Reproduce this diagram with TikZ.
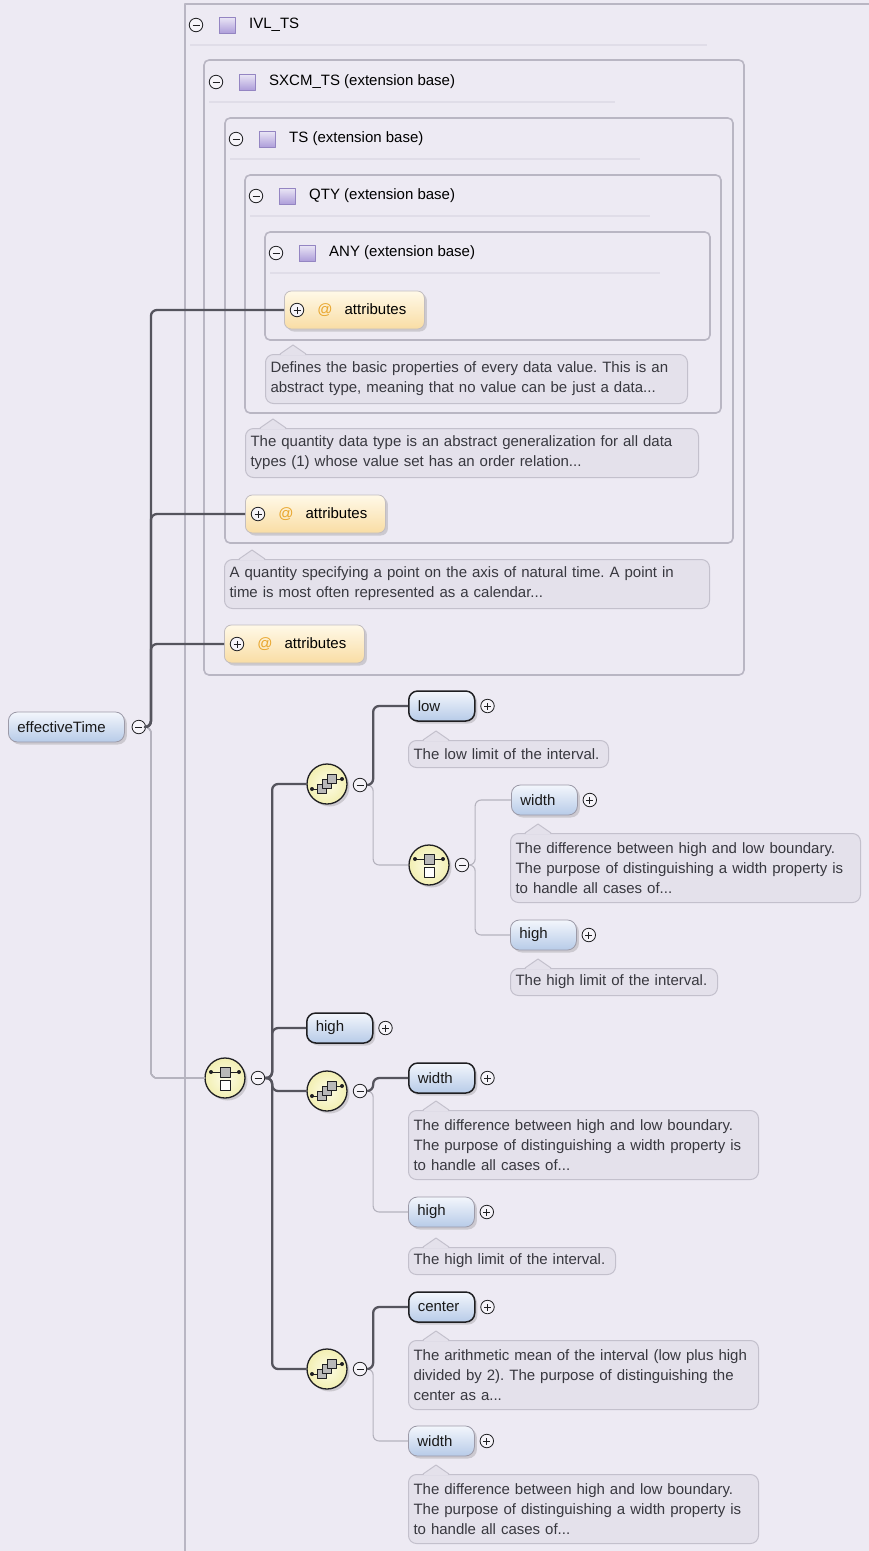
\documentclass[tikz,border=0pt]{standalone}
\usepackage{fontspec}
\setmainfont{Liberation Sans}
\usetikzlibrary{shadows}
\frenchspacing
\definecolor{bg}{HTML}{EDEAF3}
\definecolor{boxline}{HTML}{B9B6C3}
\definecolor{sepline}{HTML}{E0DDE8}
\definecolor{reqline}{HTML}{55545D}
\definecolor{optline}{HTML}{B5B3BE}
\definecolor{elemtop}{HTML}{F3F6FC}
\definecolor{elembot}{HTML}{B7CBE8}
\definecolor{mandline}{HTML}{1F1F22}
\definecolor{optelline}{HTML}{9C9AA8}
\definecolor{attrtop}{HTML}{FFF9E8}
\definecolor{attrbot}{HTML}{F9DDA4}
\definecolor{attrline}{HTML}{C2BDC0}
\definecolor{atcol}{HTML}{E8A52C}
\definecolor{docfill}{HTML}{E4E1EB}
\definecolor{docline}{HTML}{C3C0CC}
\definecolor{doctext}{HTML}{38383F}
\definecolor{compin}{HTML}{FDFCE6}
\definecolor{compout}{HTML}{F2EFB2}
\definecolor{sqfill}{HTML}{AE9EDA}
\definecolor{sqline}{HTML}{9485C2}
\begin{document}
\begin{tikzpicture}[x=1pt,y=-1pt,line join=round,
	shd/.style={drop shadow={shadow xshift=2.5pt,shadow yshift=-2.5pt,opacity=.3}},
	req/.style={draw=reqline,line width=2.3pt,rounded corners=6pt},
	opt/.style={draw=optline,line width=1.1pt,rounded corners=6pt},
	elem/.style={rectangle,rounded corners=9pt,top color=elemtop,bottom color=elembot,shd,
		minimum height=30pt,text width=48pt,inner xsep=9pt,inner ysep=0pt,align=left,anchor=west,
		text=black!90,font=\fontsize{15}{18}\selectfont},
	mand/.style={elem,draw=mandline,line width=1.5pt},
	optel/.style={elem,draw=optelline,line width=.8pt},
	attr/.style={rectangle,rounded corners=7pt,top color=attrtop,bottom color=attrbot,draw=attrline,
		line width=.8pt,shd,minimum height=38pt,text width=120pt,inner xsep=10pt,align=left,anchor=west,
		font=\fontsize{15}{18}\selectfont},
	doc/.style={rectangle,rounded corners=8pt,fill=docfill,draw=docline,line width=1pt,anchor=north west,
		inner xsep=5pt,inner ysep=0pt,align=left,text=doctext,font=\fontsize{15}{20}\selectfont},
	comp/.style={circle,minimum size=40pt,inner sep=0pt,draw=mandline,line width=1.3pt,
		inner color=compin,outer color=compout,shd},
	tog/.style={circle,minimum size=13.5pt,inner sep=0pt,draw=mandline,line width=.8pt,fill=bg!50!white},
	togminus/.style={tog,path picture={\draw[line width=.9pt] ([xshift=-3.5pt]path picture bounding box.center)
		-- ([xshift=3.5pt]path picture bounding box.center);}},
	togplus/.style={tog,path picture={\draw[line width=.9pt] ([xshift=-3.5pt]path picture bounding box.center)
		-- ([xshift=3.5pt]path picture bounding box.center) ([yshift=-3.5pt]path picture bounding box.center)
		-- ([yshift=3.5pt]path picture bounding box.center);}},
	extsq/.style={rectangle,minimum size=16pt,inner sep=0pt,draw=sqline,line width=.8pt,
		top color=sqfill!25!white,bottom color=sqfill},
	hdr/.style={anchor=west,inner sep=0pt,font=\fontsize{15}{18}\selectfont},
	extbox/.style={draw=boxline,line width=1.6pt,rounded corners=5pt}]
	\def\atlabel{\hspace*{23pt}\textcolor{atcol}{@}\hspace{12pt}attributes}
	\def\notch#1{\fill[docfill] ([xshift=15pt,yshift=-1.2pt]#1.north west) -- ([xshift=28pt,yshift=9pt]#1.north west)
		-- ([xshift=41pt,yshift=-1.2pt]#1.north west) -- cycle;
		\draw[docline,line width=1pt] ([xshift=15pt]#1.north west) -- ([xshift=28pt,yshift=9pt]#1.north west)
		-- ([xshift=41pt]#1.north west);}
	\def\seqicon#1{\begin{scope}[shift={(#1.center)},line width=.9pt]
		\draw[mandline] (-15,5) -- (-9,5) (9,-5) -- (15,-5);
		\fill[mandline] (-15,5) circle (2) (15,-5) circle (2);
		\foreach \d in {-5,0,5} \draw[mandline,fill=gray!55] (\d-4.5,-\d-4.5) rectangle ++(9,9);
		\end{scope}}
	\def\choicon#1{\begin{scope}[shift={(#1.center)},line width=.9pt]
		\draw[mandline] (-14,-6) -- (14,-6);
		\fill[mandline] (-14,-6) circle (2) (14,-6) circle (2);
		\draw[mandline,fill=gray!55] (-5,-11) rectangle (5,-1);
		\draw[mandline,fill=white] (-5,2) rectangle (5,12);
		\end{scope}}
	\useasboundingbox (0,0) rectangle (869,1551);
	\fill[bg] (0,0) rectangle (869,1551);
	% nested type boxes
	\draw[boxline,line width=1.6pt] (185,1551) -- (185,4) -- (869,4);
	\draw[extbox] (204,60) rectangle (744,675);
	\draw[extbox] (225,118) rectangle (733,543);
	\draw[extbox] (245,175) rectangle (721,413);
	\draw[extbox] (265,232) rectangle (710,340);
	\foreach \l/\r/\y in {190/707/45,209/615/102,230/640/159,250/650/216,270/660/273}
		\draw[sepline,line width=1.3pt] (\l,\y) -- (\r,\y);
	% headers
	\node[togminus] (ivl-m) at (196,25) {};
	\node[extsq] (ivl-s) at (227,25) {};
	\node[hdr] (ivl) at (249,25) {IVL\_TS};
	\node[togminus] (sxcm-m) at (216,82) {};
	\node[extsq] (sxcm-s) at (247,82) {};
	\node[hdr] (sxcm) at (269,82) {SXCM\_TS (extension base)};
	\node[togminus] (ts-m) at (236,139) {};
	\node[extsq] (ts-s) at (267,139) {};
	\node[hdr] (ts) at (289,139) {TS (extension base)};
	\node[togminus] (qty-m) at (256,196) {};
	\node[extsq] (qty-s) at (287,196) {};
	\node[hdr] (qty) at (309,196) {QTY (extension base)};
	\node[togminus] (any-m) at (276,253) {};
	\node[extsq] (any-s) at (307,253) {};
	\node[hdr] (any) at (329,253) {ANY (extension base)};
	% attributes
	\node[attr] (at1) at (284,310) {\atlabel};
	\node[attr] (at2) at (245,514) {\atlabel};
	\node[attr] (at3) at (224,644) {\atlabel};
	\foreach \a in {at1,at2,at3} \node[togplus] (\a-p) at ([xshift=13pt]\a.west) {};
	% documentation
	\node[doc,text width=412pt,minimum height=49pt] (anydoc) at (265,354)
		{Defines the basic properties of every data value. This is an\\abstract type, meaning that no value can be just a data...};
	\node[doc,text width=443pt,minimum height=49pt] (qtydoc) at (245,428)
		{The quantity data type is an abstract generalization for all data\\types (1) whose value set has an order relation...};
	\node[doc,text width=475pt,minimum height=49pt] (tsdoc) at (224,559)
		{A quantity specifying a point on the axis of natural time. A point in\\time is most often represented as a calendar...};
	% elements
	\node[optel,text width=98pt] (et) at (8,727) {effectiveTime};
	\node[togminus] (et-m) at ([xshift=14pt]et.east) {};
	\node[comp] (ch1) at (225,1078) {};
	\node[togminus] (ch1-m) at (258,1078) {};
	\node[comp] (sq1) at (327,784) {};
	\node[togminus] (sq1-m) at (360,785) {};
	\node[mand] (low) at (408,706) {low};
	\node[comp] (ch2) at (429,865) {};
	\node[togminus] (ch2-m) at (462,865) {};
	\node[optel] (wd1) at (511,800) {width};
	\node[optel] (hi1) at (510,935) {high};
	\node[mand] (hi2) at (306,1028) {high};
	\node[comp] (sq2) at (327,1091) {};
	\node[togminus] (sq2-m) at (360,1091) {};
	\node[mand] (wd2) at (408,1078) {width};
	\node[optel] (hi3) at (408,1212) {high};
	\node[comp] (sq3) at (327,1369) {};
	\node[togminus] (sq3-m) at (360,1369) {};
	\node[mand] (ce) at (408,1307) {center};
	\node[optel] (wd3) at (408,1441) {width};
	\foreach \e in {low,wd1,hi1,hi2,wd2,hi3,ce,wd3} \node[togplus] (\e-p) at ([xshift=12pt]\e.east) {};
	\seqicon{sq1} \seqicon{sq2} \seqicon{sq3}
	\choicon{ch1} \choicon{ch2}
	\node[doc,text width=190pt,minimum height=27pt] (lowdoc) at (408,740) {The low limit of the interval.};
	\node[doc,text width=340pt,minimum height=69pt] (wd1doc) at (510,833)
		{The difference between high and low boundary.\\The purpose of distinguishing a width property is\\to handle all cases of...};
	\node[doc,text width=197pt,minimum height=27pt] (hi1doc) at (510,968) {The high limit of the interval.};
	\node[doc,text width=340pt,minimum height=69pt] (wd2doc) at (408,1110)
		{The difference between high and low boundary.\\The purpose of distinguishing a width property is\\to handle all cases of...};
	\node[doc,text width=197pt,minimum height=27pt] (hi3doc) at (408,1247) {The high limit of the interval.};
	\node[doc,text width=340pt,minimum height=69pt] (cedoc) at (408,1340)
		{The arithmetic mean of the interval (low plus high\\divided by 2). The purpose of distinguishing the\\center as a...};
	\node[doc,text width=340pt,minimum height=69pt] (wd3doc) at (408,1474)
		{The difference between high and low boundary.\\The purpose of distinguishing a width property is\\to handle all cases of...};
	\foreach \n in {anydoc,qtydoc,tsdoc,lowdoc,wd1doc,hi1doc,wd2doc,hi3doc,cedoc,wd3doc} \notch{\n}
	% connectors
	\draw[opt] (et-m.east) -- ++(5,0) |- (ch1.west);
	\foreach \t in {at1,at2,at3} \draw[req] (et-m.east) -- ++(5,0) |- (\t.west);
	\foreach \t in {sq1,hi2,sq2,sq3} \draw[req] (ch1-m.east) -- ++(7,0) |- (\t.west);
	\draw[opt] (sq1-m.east) -- ++(6,0) |- (ch2.west);
	\draw[req] (sq1-m.east) -- ++(6,0) |- (low.west);
	\foreach \t in {wd1,hi1} \draw[opt] (ch2-m.east) -- ++(6,0) |- (\t.west);
	\draw[opt] (sq2-m.east) -- ++(6,0) |- (hi3.west);
	\draw[req] (sq2-m.east) -- ++(6,0) |- (wd2.west);
	\draw[opt] (sq3-m.east) -- ++(6,0) |- (wd3.west);
	\draw[req] (sq3-m.east) -- ++(6,0) |- (ce.west);
\end{tikzpicture}
\end{document}
